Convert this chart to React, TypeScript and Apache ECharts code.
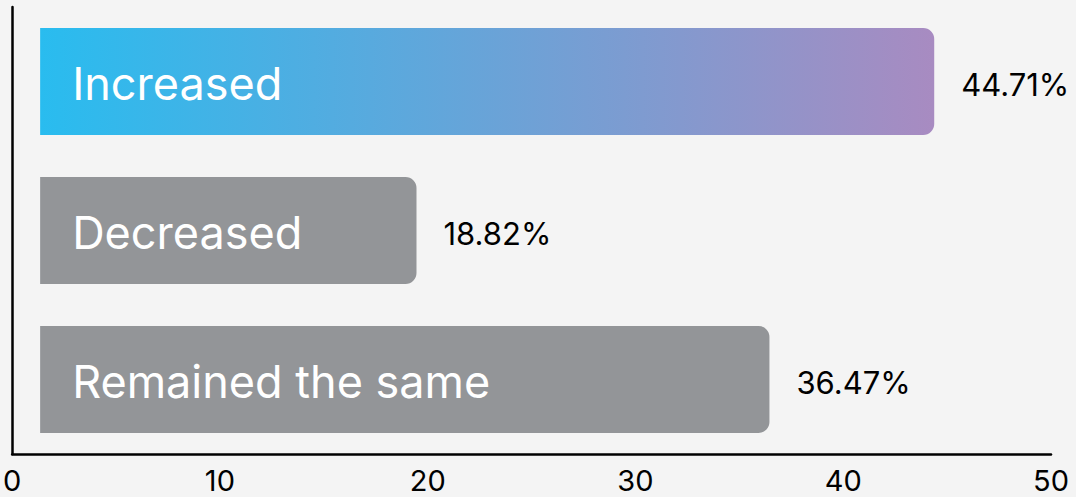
import React, { useEffect, useRef } from "react";
import * as echarts from "echarts";

const categories = ["Increased", "Decreased", "Remained the same"];
const values = [44.71, 18.82, 36.47];
const tickMin = 0;
const tickMax = 50;
const tickStep = 10;

const FONT = "Inter, 'Noto Sans', sans-serif";

export default function App() {
  const ref = useRef<HTMLDivElement>(null);
  useEffect(() => {
    if (!ref.current) return;
    const chart = echarts.init(ref.current, null, { renderer: "svg" });
    const gradient = new echarts.graphic.LinearGradient(0, 0, 1, 0, [
      { offset: 0, color: "#29bcef" },
      { offset: 1, color: "#a88bc1" },
    ]);
    chart.setOption({
      animation: false,
      backgroundColor: "#f4f4f4",
      grid: { left: 12, right: 25, top: 7, bottom: 43, containLabel: false },
      xAxis: [
        {
          type: "value",
          min: tickMin,
          max: tickMax,
          interval: tickStep,
          axisLine: { show: true, lineStyle: { color: "#000", width: 2.5 } },
          axisTick: { show: false },
          splitLine: { show: false },
          axisLabel: {
            color: "#000",
            fontSize: 29,
            fontFamily: FONT,
            margin: 12,
            lineHeight: 29,
          },
        },
        {
          type: "value",
          min: -1.4,
          max: 50.55,
          show: false,
          splitLine: { show: false },
        },
      ],
      yAxis: {
        type: "category",
        inverse: true,
        data: categories,
        axisLine: { show: true, lineStyle: { color: "#000", width: 2.5 } },
        axisTick: { show: false },
        axisLabel: { show: false },
      },
      series: [
        {
          type: "bar",
          xAxisIndex: 1,
          barWidth: 107,
          barGap: "-100%",
          data: values.map((v, i) => ({
            value: v,
            itemStyle: {
              color: i === 0 ? gradient : "#939598",
              borderRadius: [0, 11, 11, 0],
            },
          })),
          label: {
            show: true,
            position: "insideLeft",
            distance: 32,
            color: "#fff",
            fontSize: 45,
            fontFamily: FONT,
            offset: [0, 2],
            formatter: (p: any) => categories[p.dataIndex],
          },
        },
        {
          type: "bar",
          xAxisIndex: 1,
          barWidth: 107,
          barGap: "-100%",
          silent: true,
          data: values,
          itemStyle: { color: "transparent" },
          label: {
            show: true,
            position: "right",
            distance: 27,
            offset: [0, 3],
            color: "#000",
            fontSize: 31,
            fontFamily: FONT,
            formatter: (p: any) => p.value.toFixed(2) + "%",
          },
        },
      ],
    });
    return () => chart.dispose();
  }, []);
  return <div ref={ref} style={{ width: 1076, height: 497, position: "absolute", left: 0, top: 0 }} />;
}
